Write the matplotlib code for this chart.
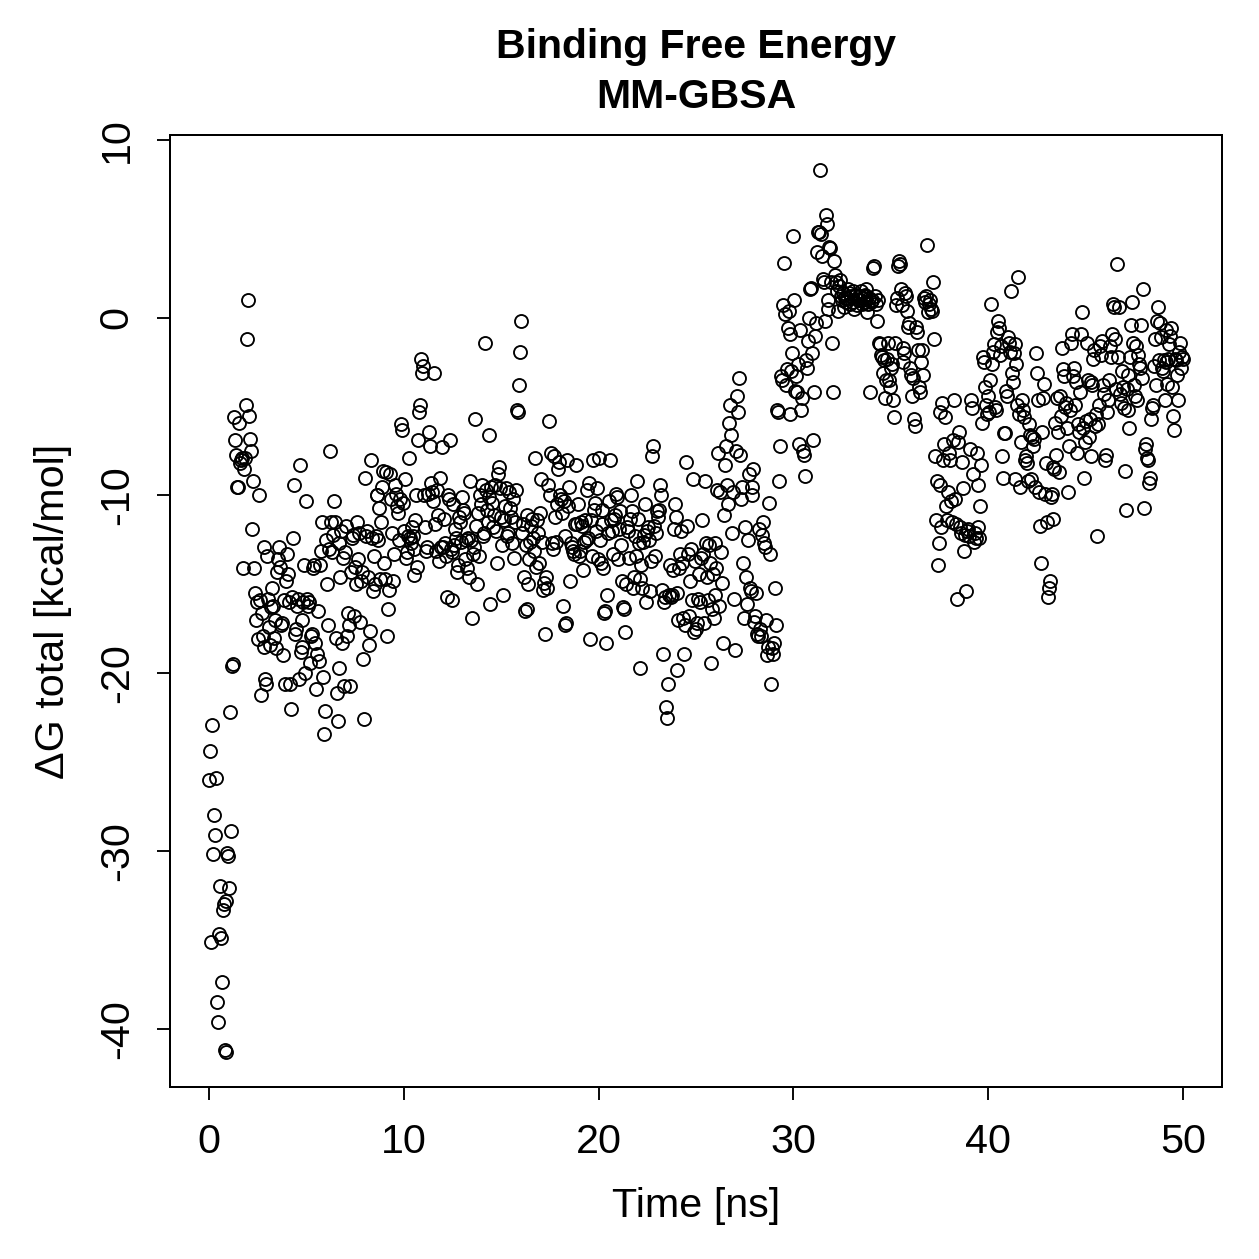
import numpy as np
import matplotlib
matplotlib.use("Agg")
import matplotlib.pyplot as plt

plt.rcParams['font.family'] = ['Liberation Sans', 'DejaVu Sans']

time_step_ns = 0.05
# Delta G total values (kcal/mol), 20 frames per ns
dg_blocks = [
    [-26.0,-24.4,-35.1,-22.9,-30.2,-28.0,-29.1,-25.9,-38.5,-39.6,-34.7,-32.0,-34.9,-37.4,-33.3,-33.0,-41.2,-41.3,-32.8,-30.1],
    [-30.3,-32.1,-22.2,-28.9,-19.6,-19.5,-5.6,-6.9,-7.7,-9.5,-9.5,-5.9,-8.2,-8.0,-7.9,-14.1,-8.5,-7.9,-4.9,-1.2],
    [1.0,-5.5,-6.8,-7.5,-11.9,-9.2,-14.1,-15.5,-17.0,-16.0,-18.1,-10.0,-15.9,-21.2,-16.6,-17.9,-18.5,-12.9,-20.3,-20.6],
    [-13.4,-15.8,-17.4,-18.4,-16.3,-15.2,-16.2,-18.0,-17.0,-18.6,-14.3,-13.6,-12.9,-14.0,-17.3,-17.2,-19.0,-15.9,-20.6,-14.8],
    [-13.3,-14.4,-16.0,-20.6,-22.0,-15.7,-12.4,-9.4,-17.8,-17.5,-16.2,-15.8,-20.3,-8.3,-18.8,-17.0,-18.5,-16.0,-13.9,-20.0],
    [-10.3,-15.8,-16.2,-16.0,-19.4,-17.9,-17.8,-14.1,-13.9,-18.3,-20.9,-18.9,-16.5,-19.3,-13.9,-13.1,-11.5,-20.2,-23.4,-22.1],
    [-12.5,-15.0,-17.3,-13.0,-7.5,-11.5,-13.2,-12.2,-10.3,-11.5,-18.0,-21.1,-22.7,-19.7,-12.7,-14.6,-12.0,-18.3,-13.5,-20.7],
    [-13.2,-11.7,-17.9,-16.6,-17.3,-20.7,-14.3,-12.4,-12.2,-16.8,-14.0,-15.0,-11.5,-13.6,-12.1,-17.1,-14.8,-14.3,-19.2,-22.6],
    [-9.0,-12.3,-12.0,-14.6,-18.4,-17.6,-8.0,-12.4,-15.4,-13.4,-15.0,-12.3,-10.0,-10.0,-12.5,-10.7,-14.7,-11.5,-9.5,-8.6],
    [-13.8,-14.7,-8.7,-17.9,-16.4,-15.3,-8.8,-10.2,-12.1,-14.8,-13.3,-9.4,-9.9,-10.6,-11.0,-12.5,-10.2,-6.0,-6.3,-10.4],
    [-12.0,-9.1,-13.5,-13.2,-12.3,-7.9,-12.4,-12.7,-11.8,-12.3,-14.5,-13.0,-11.4,-10.0,-14.0,-6.9,-5.3,-4.9,-2.3,-3.1],
    [-2.7,-10.0,-11.8,-13.1,-12.9,-9.9,-6.4,-7.2,-9.3,-9.8,-10.3,-3.1,-11.6,-13.1,-9.7,-11.1,-13.7,-9.0,-12.9,-7.3],
    [-12.9,-11.3,-12.7,-13.4,-15.7,-10.0,-10.2,-6.9,-13.0,-13.2,-15.9,-10.5,-12.8,-11.9,-12.4,-14.3,-13.9,-11.2,-11.5,-12.6],
    [-10.1,-10.8,-11.0,-13.6,-12.5,-14.1,-12.4,-14.6,-9.2,-12.5,-16.9,-13.3,-12.9,-5.7,-11.7,-15.0,-11.0,-13.4,-10.0,-10.5],
    [-9.4,-12.3,-12.1,-1.4,-9.7,-10.8,-11.5,-10.1,-6.6,-16.1,-9.5,-10.4,-11.8,-11.1,-9.4,-12.0,-13.8,-8.8,-8.4,-9.6],
    [-11.2,-12.8,-15.6,-11.4,-10.6,-9.6,-12.3,-12.1,-9.8,-10.7,-11.2,-12.7,-10.2,-13.5,-11.5,-9.7,-5.2,-5.3,-3.8,-1.9],
    [-0.2,-12.1,-11.6,-14.6,-16.5,-12.8,-16.4,-11.1,-15.0,-13.6,-12.6,-11.7,-11.3,-12.4,-13.1,-7.9,-14.0,-11.4,-12.1,-13.8],
    [-11.0,-9.1,-12.6,-15.3,-14.9,-17.8,-14.6,-15.2,-9.4,-5.8,-10.0,-7.6,-12.7,-13.0,-7.8,-11.2,-12.6,-10.5,-8.5,-8.1],
    [-10.0,-10.2,-11.0,-16.2,-10.3,-12.3,-17.3,-17.2,-8.0,-10.6,-9.5,-14.8,-12.7,-12.9,-13.1,-13.3,-11.6,-8.3,-11.6,-10.5],
    [-13.4,-13.1,-11.5,-11.7,-14.2,-12.6,-11.4,-12.5,-9.7,-12.4,-9.3,-18.1,-11.4,-13.4,-8.0,-10.8,-10.4,-12.0,-9.6,-13.6],
    [-7.9,-12.5,-13.8,-11.6,-10.8,-14.1,-16.6,-16.5,-18.3,-15.6,-12.1,-10.3,-8.0,-11.4,-12.0,-13.3,-11.3,-11.1,-9.9,-10.1],
    [-13.6,-11.9,-10.9,-12.8,-14.8,-16.3,-16.4,-17.7,-15.0,-11.8,-12.0,-13.5,-11.3,-10.0,-10.9,-15.2,-14.6,-12.3,-13.4,-9.2],
    [-11.3,-12.7,-14.7,-19.7,-13.9,-15.2,-12.6,-12.2,-10.5,-16.0,-12.0,-11.8,-12.5,-15.4,-13.7,-7.8,-7.2,-11.7,-13.4,-12.1],
    [-10.9,-11.2,-10.8,-9.4,-10.0,-15.3,-18.9,-16.0,-15.7,-21.9,-22.5,-20.6,-15.6,-13.9,-15.7,-15.6,-14.2,-11.9,-10.5,-11.2],
    [-15.5,-19.8,-17.0,-14.1,-13.3,-12.0,-13.8,-16.9,-18.9,-17.3,-8.1,-11.7,-13.3,-16.8,-14.8,-13.0,-15.9,-9.1,-17.7,-13.7],
    [-17.5,-17.2,-15.8,-14.4,-16.0,-13.5,-11.4,-13.3,-17.2,-9.2,-12.7,-14.6,-15.9,-12.8,-13.8,-19.4,-16.4,-14.4,-16.9,-12.7],
    [-15.6,-14.1,-9.7,-7.6,-16.2,-9.8,-13.2,-14.9,-18.3,-11.1,-8.3,-7.2,-9.4,-10.5,-5.9,-4.9,-6.6,-12.1,-9.8,-15.8],
    [-18.7,-7.5,-4.4,-5.3,-3.4,-7.7,-10.2,-9.5,-13.8,-16.9,-11.8,-14.6,-16.1,-12.5,-8.8,-15.2,-15.4,-10.0,-9.5,-8.5],
    [-17.1,-16.8,-15.5,-17.8,-17.9,-11.9,-17.5,-17.9,-12.2,-11.5,-12.7,-12.9,-17.0,-19.0,-18.5,-10.4,-13.3,-20.6,-18.6,-18.9],
    [-18.3,-15.2,-17.3,-5.2,-5.3,-9.2,-7.2,-3.3,-3.5,0.7,3.1,0.2,-3.8,-2.9,-0.6,0.4,-0.9,-5.4,-3.0,-2.0],
    [4.6,1.0,-4.1,-3.3,-4.2,-2.6,-7.1,-0.7,-5.2,-4.5,-7.5,-7.7,-8.9,-2.4,-2.8,-1.3,0.0,1.6,1.7,-2.0],
    [-6.9,-4.2,-1.0,-0.3,3.7,4.8,4.8,8.3,4.7,3.5,2.2,2.0,-0.2,5.8,5.3,1.0,0.5,4.0,3.9,2.0],
    [-1.4,-4.2,3.2,2.4,2.0,1.5,0.4,1.8,2.1,1.2,1.0,1.4,0.6,1.1,0.9,1.1,1.6,1.4,0.8,1.2],
    [0.9,1.5,0.5,1.2,1.3,0.7,1.0,1.0,1.2,1.5,0.8,1.1,1.2,0.9,1.3,1.6,0.3,0.8,1.1,-4.2],
    [0.9,1.0,2.8,2.9,1.2,0.8,-0.2,1.0,-1.4,-1.5,-2.1,-2.2,-3.1,-2.4,-4.5,-3.5,-2.3,-1.4,-3.5,-3.9],
    [-2.8,-2.6,-4.6,-5.6,-1.4,0.7,1.1,2.9,3.2,3.0,1.6,0.7,-1.7,-2.5,-2.0,1.4,1.2,0.4,-0.5,-0.3],
    [-2.8,-3.2,-4.4,-3.4,-5.7,-6.1,-0.5,-0.8,-1.8,-3.9,-4.2,-2.5,-1.8,-3.2,1.1,0.9,1.2,4.1,0.3,0.8],
    [1.0,0.5,0.4,2.0,-1.2,-7.8,-11.4,-9.2,-13.9,-12.7,-9.4,-5.3,-11.8,-4.8,-8.0,-7.1,-5.6,-10.6,-11.4,-9.8],
    [-7.6,-8.0,-10.3,-11.5,-6.9,-4.6,-10.2,-11.6,-15.8,-7.0,-6.4,-11.8,-12.1,-8.1,-9.6,-13.1,-12.2,-15.4,-12.0,-11.9],
    [-12.3,-7.4,-4.6,-5.1,-8.8,-12.6,-12.1,-12.4,-7.6,-9.4,-11.8,-12.4,-10.6,-8.3,-5.9,-2.2,-2.5,-3.9,-4.9,-5.4],
    [-4.4,-5.3,-3.5,0.8,-2.6,-1.9,-1.5,-5.0,-5.2,-0.8,-0.2,-0.6,-2.1,-1.6,-7.8,-9.0,-6.5,-6.5,-4.1,-4.4],
    [-1.1,-1.4,-1.9,1.5,-3.1,-3.6,-2.0,-1.5,-9.1,-2.6,-4.9,2.3,-5.4,-9.5,-7.0,-4.6,-5.2,-5.6,-8.0,-7.8],
    [-8.2,-9.2,-6.0,-6.6,-9.1,-6.7,-7.2,-6.8,-9.5,-2.0,-3.1,-4.6,-9.8,-11.7,-13.8,-6.4,-4.5,-3.7,-9.9,-8.2],
    [-11.5,-15.7,-15.2,-14.8,-10.1,-9.9,-11.3,-8.4,-8.5,-5.9,-7.7,-4.5,-6.4,-8.7,-4.4,-5.5,-1.7,-2.9,-3.3,-5.0],
    [-4.8,-6.2,-9.8,-7.2,-5.2,-1.4,-0.9,-3.3,-2.8,-4.9,-3.6,-7.6,-6.0,-6.4,-4.2,-0.9,0.3,-6.2,-9.0,-7.0],
    [-5.8,-1.4,-3.5,-6.7,-5.7,-3.6,-7.8,-3.8,-2.3,-1.8,-6.1,-5.4,-12.3,-6.0,-4.9,-1.6,-2.1,-1.3,-3.8,-4.3],
    [-8.0,-7.7,-5.3,-4.6,-3.5,-1.6,-2.2,-0.9,0.8,0.6,-1.2,-4.0,3.0,-2.2,0.6,-4.3,-4.8,-3.0,-3.9,-5.1],
    [-8.6,-10.8,-4.0,-3.2,-5.2,-6.2,-2.2,-0.4,0.9,-1.4,-3.8,-4.4,-1.6,-4.6,-2.1,-2.6,-2.8,-0.4,-3.4,1.6],
    [-10.7,-7.4,-7.1,-7.9,-8.0,-9.3,-9.0,-5.7,-5.1,-4.9,-2.7,-1.2,-3.8,-0.2,0.6,-2.4,-0.3,-1.1,-2.8,-3.0],
    [-2.4,-4.6,-2.5,-0.7,-3.7,-2.3,-1.5,-1.0,-0.6,-3.9,-5.5,-6.3,-2.3,-2.4,-3.2,-4.6,-1.9,-1.4,-2.8,-2.2],
    [-2.3],
]
dg_total = np.concatenate([np.array(b) for b in dg_blocks])
time_ns = np.arange(len(dg_total)) * time_step_ns

x_ticks = [0, 10, 20, 30, 40, 50]
y_ticks = [-40, -30, -20, -10, 0, 10]

W = H = 1259
dpi = 180
fs = 16.5
fig = plt.figure(figsize=(W / dpi, H / dpi), dpi=dpi)
ax = fig.add_axes([170 / W, 1 - 1087 / H, (1222 - 170) / W, (1087 - 135) / H])

ax.plot(time_ns, dg_total, linestyle='none', marker='o', markersize=5.2,
        markerfacecolor='none', markeredgecolor='black', markeredgewidth=0.75)

ymin, ymax = dg_total.min(), dg_total.max()
pad = 0.04 * (ymax - ymin)
ax.set_xlim(-2, 52)
ax.set_ylim(ymin - pad, ymax + pad)

ax.set_xticks(x_ticks)
ax.set_yticks(y_ticks)
ax.set_yticklabels([str(v) for v in y_ticks], rotation=90, va='center')
ax.tick_params(direction='out', length=5.2, width=0.75, labelsize=fs)
ax.tick_params(axis='x', pad=9.2)
ax.tick_params(axis='y', pad=8.5)
for s in ax.spines.values():
    s.set_linewidth(0.8)

ax.set_xlabel('Time [ns]', fontsize=fs, labelpad=10.5)
ax.set_ylabel('ΔG total [kcal/mol]', fontsize=fs, labelpad=10.5)

cx = (170 + 1222) / 2 / W
fig.text(cx, 1 - 47 / H, 'Binding Free Energy', ha='center', va='center',
         fontsize=16.4, fontweight='bold')
fig.text(cx, 1 - 97 / H, 'MM-GBSA', ha='center', va='center',
         fontsize=16.4, fontweight='bold')

fig.savefig('out.png', dpi=dpi)
